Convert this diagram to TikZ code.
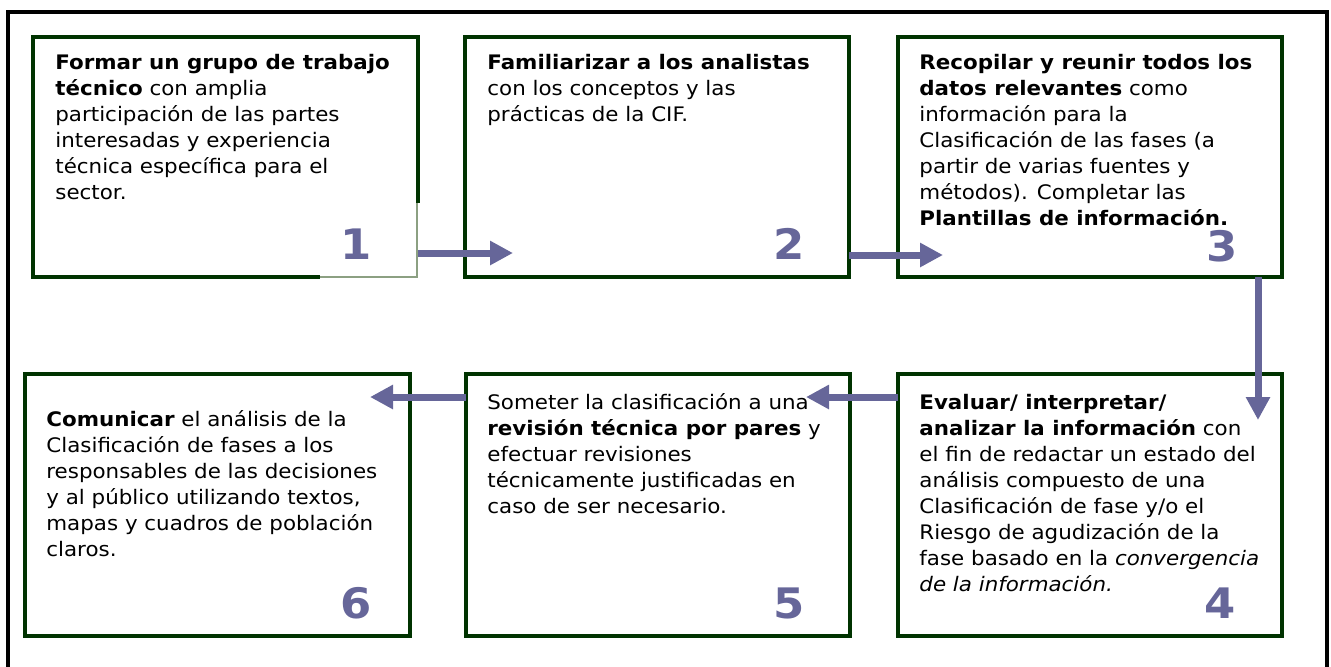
\documentclass[tikz,border=0pt]{standalone}
\usepackage{fontspec}
\setmainfont{DejaVu Sans}[BoldFont={DejaVu Sans Bold},ItalicFont={DejaVu Sans Oblique},FakeStretch=1.07]
\usetikzlibrary{arrows.meta}
\definecolor{boxgreen}{RGB}{0,51,0}
\definecolor{flowblue}{RGB}{102,102,153}
\definecolor{patchgray}{RGB}{140,160,130}
\tikzset{stepbox/.style = {shape = rectangle,
                           draw = boxgreen,
                           line width = 1.75pt,
                           inner sep = 0pt,
                           outer sep = 0pt},
         steptext/.style = {anchor = north west,
                            inner sep = 0pt,
                            align = left,
                            font = \fontsize{10}{13}\selectfont},
         stepnum/.style = {text = flowblue,
                           inner sep = 0pt,
                           font = \fontsize{21}{21}\selectfont\bfseries},
         flow/.style = {draw = flowblue,
                        line width = 3.5pt,
                        -{Triangle[length=11.5pt, width=11.5pt]}}}
\begin{document}
\begin{tikzpicture}[x=0.5pt, y=-0.5pt]
		\useasboundingbox (0,0) rectangle (1331,666);
		\draw[line width=2pt] (8,668) -- (8,12) -- (1327,12) -- (1327,668);
		\node[stepbox, minimum width=192.5pt, minimum height=120pt] (b1) at (225.5,157) {};
		\node[stepbox, minimum width=192pt, minimum height=120pt] (b2) at (657,157) {};
		\node[stepbox, minimum width=192pt, minimum height=120pt] (b3) at (1090,157) {};
		\node[stepbox, minimum width=192pt, minimum height=131pt] (b4) at (1090,505) {};
		\node[stepbox, minimum width=192pt, minimum height=131pt] (b5) at (658,505) {};
		\node[stepbox, minimum width=192.5pt, minimum height=131pt] (b6) at (217.5,505) {};
		\fill[white] (320,203) rectangle (420.5,279.5);
		\draw[patchgray, line width=1pt] (320,277) -- (417,277) -- (417,203);
		\node[steptext] (t1) at (55,51) {\strut\textbf{Formar un grupo de trabajo}\\
			\textbf{técnico} con amplia\\ participación de las partes\\
			interesadas y experiencia\\ técnica específica para el\\ sector.};
		\node[steptext] (t2) at (487,51) {\strut\textbf{Familiarizar a los analistas}\\
			con los conceptos y las\\ prácticas de la CIF.};
		\node[steptext] (t3) at (919,51) {\strut\textbf{Recopilar y reunir todos los}\\
			\textbf{datos relevantes} como\\ información para la\\
			Clasificación de las fases (a\\ partir de varias fuentes y\\
			métodos). Completar las\\ \textbf{Plantillas de información.}};
		\node[steptext] (t4) at (919,391) {\strut\textbf{Evaluar/ interpretar/}\\
			\textbf{analizar la información} con\\ el fin de redactar un estado del\\
			análisis compuesto de una\\ Clasificación de fase y/o el\\
			Riesgo de agudización de la\\ fase basado en la \textit{convergencia}\\
			\textit{de la información.}};
		\node[steptext] (t5) at (487,391) {\strut Someter la clasificación a una\\
			\textbf{revisión técnica por pares} y\\ efectuar revisiones\\
			técnicamente justificadas en\\ caso de ser necesario.};
		\node[steptext] (t6) at (46,408) {\strut\textbf{Comunicar} el análisis de la\\
			Clasificación de fases a los\\ responsables de las decisiones\\
			y al público utilizando textos,\\ mapas y cuadros de población\\ claros.};
		\node[stepnum] (n1) at (356,244) {1};
		\node[stepnum] (n2) at (789,244) {2};
		\node[stepnum] (n3) at (1222,246) {3};
		\node[stepnum] (n4) at (1220,603) {4};
		\node[stepnum] (n5) at (789,603) {5};
		\node[stepnum] (n6) at (356,603) {6};
		\coordinate (e12) at (513,253);
		\coordinate (e23) at (943,255);
		\coordinate (e34) at (1258,420);
		\coordinate (e45) at (806,397);
		\coordinate (e56) at (370,397);
		\draw[flow] (b1.east |- e12) -- (e12);
		\draw[flow] (b2.east |- e23) -- (e23);
		\draw[flow] (b3.south -| e34) -- (e34);
		\draw[flow] (b4.west |- e45) -- (e45);
		\draw[flow] (b5.west |- e56) -- (e56);
	\end{tikzpicture}
\end{document}
